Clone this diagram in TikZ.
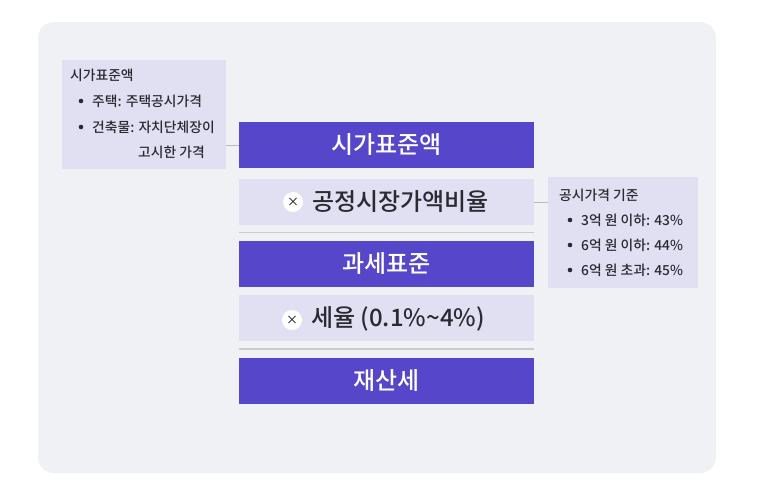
\documentclass[tikz,border=0pt]{standalone}
\usepackage{fontspec}
\setmainfont{Noto Sans CJK KR}[UprightFont=* Medium]
\definecolor{bgc}{HTML}{F0F1F5}
\definecolor{purp}{HTML}{5646C9}
\definecolor{lav}{HTML}{E1E0F3}
\definecolor{sepc}{HTML}{CACACF}
\definecolor{txt}{HTML}{2A2A33}
\tikzset{
  main/.style={rectangle, minimum width=295pt, minimum height=46pt, inner sep=0pt},
  purpbox/.style={main, fill=purp, text=white, font=\fontsize{24}{28}\selectfont},
  lavbox/.style={main, fill=lav, text=txt, font=\fontsize{24}{28}\selectfont},
  note/.style={rectangle, fill=lav, inner sep=0pt, anchor=north west},
  ntext/.style={anchor=west, text=txt, font=\fontsize{13.8}{16}\selectfont, inner sep=0pt},
  bul/.style={circle, fill=txt, inner sep=0pt, minimum size=4.6pt},
  sep/.style={draw=sepc, line width=1.2pt},
  conn/.style={draw=sepc!80!gray, line width=0.8pt},
  xcirc/.style={circle, fill=white, inner sep=0pt, minimum size=20pt, text=txt, font=\fontsize{12}{12}\selectfont}
}
\begin{document}
\begin{tikzpicture}[x=1pt, y=-1pt]
\useasboundingbox (0,0) rectangle (770,496);
\fill[white] (0,0) rectangle (770,496);
\fill[bgc, rounded corners=16pt] (38,22) rectangle (716,473);

% main column
\node[purpbox] (b1) at (386.5,145) {시가표준액};
\node[lavbox]  (b2) at (386.5,202) {};
\node[purpbox] (b3) at (386.5,263.5) {과세표준};
\node[lavbox]  (b4) at (386.5,318) {};
\node[purpbox] (b5) at (386.5,380.5) {재산세};

\node[xcirc] (x1) at (293,202) {×};
\node[anchor=west, inner sep=0pt, text=txt, font=\fontsize{24}{28}\selectfont] (t2) at (312,202) {공정시장가액비율};
\node[xcirc] (x2) at (292,320) {×};
\node[anchor=west, inner sep=0pt, text=txt, font=\fontsize{24}{28}\selectfont] (t4) at (311,319) {세율 (0.1\%\char`\~4\%)};

% separators
\coordinate (s1a) at (239,232.5); \coordinate (s1b) at (534,232.5);
\coordinate (s2a) at (239,349); \coordinate (s2b) at (534,349);
\draw[sep] (s1a) -- (s1b);
\draw[sep] (s2a) -- (s2b);

% left note
\node[note, minimum width=164pt, minimum height=109pt] (nl) at (62,60) {};
\node[ntext] (l0) at (70,75) {시가표준액};
\node[bul] (lb1) at (81,101) {};
\node[ntext] (l1) at (92,101) {주택: 주택공시가격};
\node[bul] (lb2) at (81,127) {};
\node[ntext] (l2) at (92,127) {건축물: 자치단체장이};
\node[ntext] (l3) at (138,152) {고시한 가격};
\draw[conn] (b1.west) -- (b1.west -| nl.east);

% right note
\node[note, minimum width=150pt, minimum height=111pt] (nr) at (548,177) {};
\node[ntext] (r0) at (559,195) {공시가격 기준};
\node[bul] (rb1) at (570,220) {};
\node[ntext] (r1) at (581,220) {3억 원 이하: 43\%};
\node[bul] (rb2) at (570,245) {};
\node[ntext] (r2) at (581,245) {6억 원 이하: 44\%};
\node[bul] (rb3) at (570,270) {};
\node[ntext] (r3) at (581,270) {6억 원 초과: 45\%};
\draw[conn] (b2.east) -- (b2.east -| nr.west);
\end{tikzpicture}
\end{document}
